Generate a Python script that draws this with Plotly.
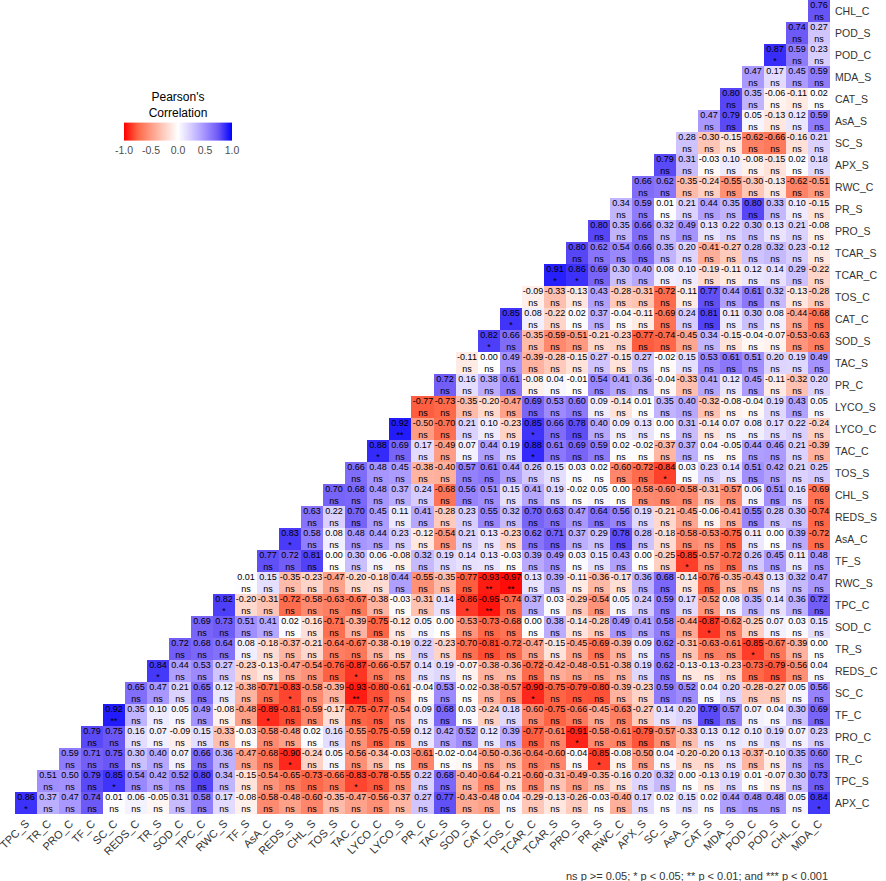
import plotly.graph_objects as go

# variable order (rows bottom->top, columns left->right)
variables = ["APX_C", "TPC_S", "TR_C", "PRO_C", "TF_C", "SC_C", "REDS_C", "TR_S",
             "SOD_C", "TPC_C", "RWC_S", "TF_S", "AsA_C", "REDS_S", "CHL_S", "TOS_S",
             "TAC_C", "LYCO_C", "LYCO_S", "PR_C", "TAC_S", "SOD_S", "CAT_C", "TOS_C",
             "TCAR_C", "TCAR_S", "PRO_S", "PR_S", "RWC_C", "APX_S", "SC_S", "AsA_S",
             "CAT_S", "MDA_S", "POD_C", "POD_S", "CHL_C", "MDA_C"]
x_labels = variables[1:]
y_labels = variables[:-1]

# correlation of each row variable with the columns to its right (lower triangle)
apx_c = [0.86, 0.37, 0.47, 0.74, 0.01, 0.06, -0.05, 0.31, 0.58, 0.17, -0.08, -0.58, -0.48,
         -0.60, -0.35, -0.47, -0.56, -0.37, 0.27, 0.77, -0.43, -0.48, 0.04, -0.29, -0.13,
         -0.26, -0.03, -0.40, 0.17, 0.02, 0.15, 0.02, 0.44, 0.48, 0.48, 0.05, 0.84]
tpc_s = [0.51, 0.50, 0.79, 0.85, 0.54, 0.42, 0.52, 0.80, 0.34, -0.15, -0.54, -0.65,
         -0.73, -0.66, -0.83, -0.78, -0.55, 0.22, 0.68, -0.40, -0.64, -0.21, -0.60, -0.31,
         -0.49, -0.35, -0.16, 0.20, 0.32, 0.00, -0.13, 0.19, 0.01, -0.07, 0.30, 0.73]
tr_c = [0.59, 0.71, 0.75, 0.30, 0.40, 0.07, 0.66, 0.36, -0.47, -0.68, -0.90,
        -0.24, 0.05, -0.56, -0.34, -0.03, -0.61, -0.02, -0.04, -0.50, -0.36, -0.64, -0.60,
        -0.04, -0.85, -0.08, -0.50, 0.04, -0.20, -0.20, 0.13, -0.37, -0.10, 0.35, 0.60]
pro_c = [0.79, 0.75, 0.16, 0.07, -0.09, 0.15, -0.33, -0.03, -0.58, -0.48,
         0.02, 0.16, -0.55, -0.75, -0.59, 0.12, 0.42, 0.52, 0.12, 0.39, -0.77, -0.61,
         -0.91, -0.58, -0.61, -0.79, -0.57, -0.33, 0.13, 0.12, 0.10, 0.19, 0.07, 0.23]
tf_c = [0.92, 0.35, 0.10, 0.05, 0.49, -0.08, -0.48, -0.89, -0.81,
        -0.59, -0.17, -0.75, -0.77, -0.54, 0.09, 0.68, 0.03, -0.24, 0.18, -0.60, -0.75,
        -0.66, -0.45, -0.63, -0.27, 0.14, 0.20, 0.79, 0.57, 0.07, 0.04, 0.30, 0.69]
sc_c = [0.65, 0.47, 0.21, 0.65, 0.12, -0.38, -0.71, -0.83,
        -0.58, -0.39, -0.93, -0.80, -0.61, -0.04, 0.53, -0.02, -0.38, -0.57, -0.90, -0.75,
        -0.79, -0.80, -0.39, -0.23, 0.59, 0.52, 0.04, 0.20, -0.28, -0.27, 0.05, 0.56]
reds_c = [0.84, 0.44, 0.53, 0.27, -0.23, -0.13, -0.47,
          -0.54, -0.76, -0.87, -0.66, -0.57, 0.14, 0.19, -0.07, -0.38, -0.36, -0.72, -0.42,
          -0.48, -0.51, -0.38, 0.19, 0.62, -0.13, -0.13, -0.23, -0.73, -0.79, -0.56, 0.04]
tr_s = [0.72, 0.68, 0.64, 0.08, -0.18, -0.37,
        -0.21, -0.64, -0.67, -0.38, -0.19, 0.22, -0.23, -0.70, -0.81, -0.72, -0.47, -0.15,
        -0.45, -0.69, -0.39, 0.09, 0.62, -0.31, -0.63, -0.61, -0.85, -0.67, -0.39, 0.00]
sod_c = [0.69, 0.73, 0.51, 0.41, 0.02,
         -0.16, -0.71, -0.39, -0.75, -0.12, 0.05, 0.00, -0.53, -0.73, -0.68, 0.00, 0.38,
         -0.14, -0.28, 0.49, 0.41, 0.58, -0.44, -0.87, -0.62, -0.25, 0.07, 0.03, 0.15]
tpc_c = [0.82, -0.20, -0.31, -0.72, -0.58, -0.63, -0.67, -0.38, -0.03, -0.31, 0.14, -0.86, -0.95, -0.74,
         0.37, 0.03, -0.29, -0.54, 0.05, 0.24, 0.59, 0.17, -0.52, 0.08, 0.35, 0.14, 0.36, 0.72]
rwc_s = [0.01, 0.15, -0.35, -0.23, -0.47, -0.20, -0.18, 0.44, -0.55, -0.35, -0.77, -0.93, -0.97,
         0.13, 0.39, -0.11, -0.36, -0.17, 0.36, 0.68, -0.14, -0.76, -0.35, -0.43, 0.13, 0.32, 0.47]
tf_s = [0.77, 0.72, 0.81, 0.00, 0.30, 0.06, -0.08, 0.32, 0.19, 0.14, 0.13, -0.03,
        0.39, 0.49, 0.03, 0.15, 0.43, 0.00, -0.25, -0.85, -0.57, -0.72, 0.26, 0.45, 0.11, 0.48]
asa_c = [0.83, 0.58, 0.08, 0.48, 0.44, 0.23, -0.12, -0.54, 0.21, 0.13, -0.23,
         0.62, 0.71, 0.37, 0.29, 0.78, 0.28, -0.18, -0.58, -0.53, -0.75, 0.11, 0.00, 0.39, -0.72]
reds_s = [0.63, 0.22, 0.70, 0.45, 0.11, 0.41, -0.28, 0.23, 0.55, 0.32,
          0.70, 0.63, 0.47, 0.64, 0.56, 0.19, -0.21, -0.45, -0.06, -0.41, 0.55, 0.28, 0.30, -0.74]
chl_s = [0.70, 0.68, 0.48, 0.37, 0.24, -0.68, 0.56, 0.51, 0.15,
         0.41, 0.19, -0.02, 0.05, 0.00, -0.58, -0.60, -0.58, -0.31, -0.57, 0.06, 0.51, 0.16, -0.69]
tos_s = [0.66, 0.48, 0.45, -0.38, -0.40, 0.57, 0.61, 0.44,
         0.26, 0.15, 0.03, 0.02, -0.60, -0.72, -0.84, 0.03, 0.23, 0.14, 0.51, 0.42, 0.21, 0.25]
tac_c = [0.88, 0.69, 0.17, -0.49, 0.07, 0.44, 0.19,
         0.88, 0.61, 0.69, 0.59, 0.02, -0.02, -0.37, 0.37, 0.04, -0.05, 0.44, 0.46, 0.21, -0.39]
lyco_c = [0.92, -0.50, -0.70, 0.21, 0.10, -0.23,
          0.85, 0.66, 0.78, 0.40, 0.09, 0.13, 0.00, 0.31, -0.14, 0.07, 0.08, 0.17, 0.22, -0.24]
lyco_s = [-0.77, -0.73, -0.35, -0.20, -0.47, 0.69, 0.53, 0.60, 0.09, -0.14,
          0.01, 0.35, 0.40, -0.32, -0.08, -0.04, 0.19, 0.43, 0.05]
pr_c = [0.72, 0.16, 0.38, 0.61, -0.08, 0.04, -0.01, 0.54,
        0.41, 0.36, -0.04, -0.33, 0.41, 0.12, 0.45, -0.11, -0.32, 0.20]
tac_s = [-0.11, 0.00, 0.49, -0.39, -0.28, -0.15, 0.27,
         -0.15, 0.27, -0.02, 0.15, 0.53, 0.61, 0.51, 0.20, 0.19, 0.49]
sod_s = [0.82, 0.66, -0.35, -0.59, -0.51, -0.21,
         -0.23, -0.77, -0.74, -0.45, 0.34, -0.15, -0.04, -0.07, -0.53, -0.63]
cat_c = [0.85, 0.08, -0.22, 0.02, 0.37,
         -0.04, -0.11, -0.69, 0.24, 0.81, 0.11, 0.30, 0.08, -0.44, -0.68]
tos_c = [-0.09, -0.33, -0.13, 0.43,
         -0.28, -0.31, -0.72, -0.11, 0.77, 0.44, 0.61, 0.32, -0.13, -0.28]
tcar_c = [0.91, 0.86, 0.69, 0.30, 0.40, 0.08, 0.10, -0.19, -0.11, 0.12, 0.14, 0.29, -0.22]
tcar_s = [0.80, 0.62, 0.54, 0.66, 0.35, 0.20, -0.41, -0.27, 0.28, 0.32, 0.23, -0.12]
pro_s = [0.80, 0.35, 0.66, 0.32, 0.49, 0.13, 0.22, 0.30, 0.13, 0.21, -0.08]
pr_s = [0.34, 0.59, 0.01, 0.21, 0.44, 0.35, 0.80, 0.33, 0.10, -0.15]
rwc_c = [0.66, 0.62, -0.35, -0.24, -0.55, -0.30, -0.13, -0.62, -0.51]
apx_s = [0.79, 0.31, -0.03, 0.10, -0.08, -0.15, 0.02, 0.18]
sc_s = [0.28, -0.30, -0.15, -0.62, -0.66, -0.16, 0.21]
asa_s = [0.47, 0.79, 0.05, -0.13, 0.12, 0.59]
cat_s = [0.80, 0.35, -0.06, -0.11, 0.02]
mda_s = [0.47, 0.17, 0.45, 0.59]
pod_c = [0.87, 0.59, 0.23]
pod_s = [0.74, 0.27]
chl_c = [0.76]

rows = [apx_c, tpc_s, tr_c, pro_c, tf_c, sc_c, reds_c, tr_s, sod_c, tpc_c, rwc_s, tf_s,
        asa_c, reds_s, chl_s, tos_s, tac_c, lyco_c, lyco_s, pr_c, tac_s, sod_s, cat_c,
        tos_c, tcar_c, tcar_s, pro_s, pr_s, rwc_c, apx_s, sc_s, asa_s, cat_s, mda_s,
        pod_c, pod_s, chl_c]


def sig_mark(r):
    # n = 6 samples -> critical |r| for p<0.05, 0.01, 0.001
    a = abs(r)
    if a >= 0.974:
        return "***"
    if a >= 0.917:
        return "**"
    if a >= 0.811:
        return "*"
    return "ns"


z = []
text = []
for i, vals in enumerate(rows):
    z.append([None] * i + vals)
    text.append([""] * i + [f"{v:.2f}<br>{sig_mark(v)}" for v in vals])

colorscale = [
    [0.0, "#FF0000"], [0.125, "#FF6545"], [0.25, "#FF9C84"], [0.375, "#FFCFC2"],
    [0.5, "#FFFFFF"], [0.625, "#D4CAFF"], [0.75, "#A391FF"], [0.875, "#6B57F6"],
    [1.0, "#0000FF"],
]

fig = go.Figure(go.Heatmap(
    z=z, x=x_labels, y=y_labels,
    zmin=-1, zmax=1,
    colorscale=colorscale,
    text=text, texttemplate="%{text}",
    textfont=dict(size=9, color="black", family="Liberation Sans, Arial"),
    hoverongaps=False,
    colorbar=dict(
        orientation="h",
        x=0.2, xanchor="center",
        y=0.886, yanchor="top",
        len=108, lenmode="pixels",
        thickness=18,
        xpad=0, ypad=0,
        outlinewidth=0,
        tickvals=[-1, -0.5, 0, 0.5, 1],
        ticktext=["-1.0", "-0.5", "0.0", "0.5", "1.0"],
        ticks="",
        tickfont=dict(size=10.5, color="#4D4D4D"),
        title=dict(text="Pearson's<br>Correlation", side="top",
                   font=dict(size=12, color="black")),
    ),
))

fig.update_xaxes(tickangle=-45, tickfont=dict(size=11, color="#333333"),
                 showgrid=False, zeroline=False, ticks="", automargin=False)
fig.update_yaxes(side="right", tickfont=dict(size=10.5, color="#333333"),
                 showgrid=False, zeroline=False, ticks="", automargin=False,
                 ticklabelstandoff=4)

fig.add_annotation(
    text="ns p >= 0.05; * p < 0.05; ** p < 0.01; and *** p < 0.001",
    x=1, xref="paper", xanchor="right",
    y=-0.076, yref="paper", yanchor="middle",
    showarrow=False, font=dict(size=11, color="#333333"),
)

fig.update_layout(
    width=886, height=881,
    margin=dict(l=15, r=56, t=0, b=67),
    plot_bgcolor="white", paper_bgcolor="white",
    font=dict(family="Liberation Sans, Arial"),
)

# drop the browser's default body margin so the figure fills the window exactly
fig.write_html("out.html", config={"displayModeBar": False},
               post_script="document.body.style.margin='0';")
